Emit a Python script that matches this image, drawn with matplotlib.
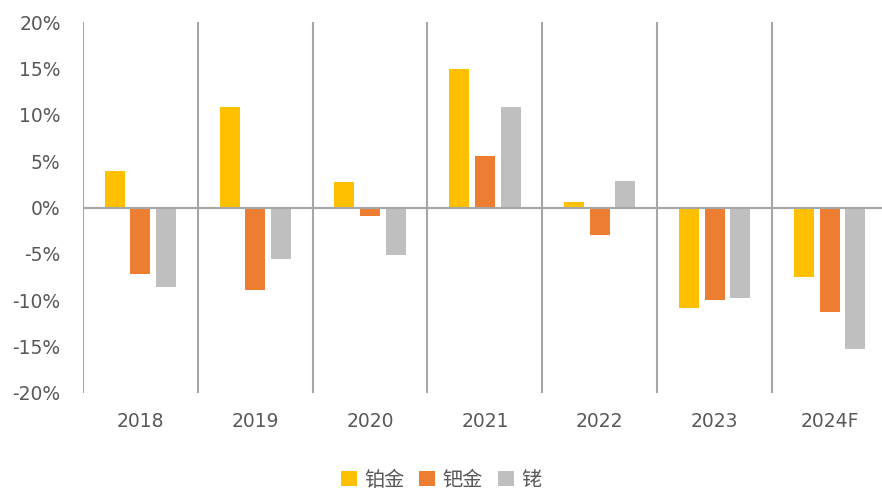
import matplotlib.pyplot as plt
import numpy as np
from matplotlib.ticker import FuncFormatter

plt.rcParams['font.family'] = ['DejaVu Sans', 'Noto Sans CJK SC']

years = ['2018', '2019', '2020', '2021', '2022', '2023', '2024F']
platinum = [3.95, 10.85, 2.7, 14.9, 0.6, -10.8, -7.5]
palladium = [-7.15, -8.9, -0.9, 5.6, -2.95, -9.95, -11.3]
rhodium = [-8.6, -5.6, -5.1, 10.8, 2.9, -9.8, -15.3]

series = [('铂金', platinum, '#FFC000'),
          ('钯金', palladium, '#ED7D31'),
          ('铑', rhodium, '#BFBFBF')]

fig = plt.figure(figsize=(8.82, 4.9), dpi=100)
ax = fig.add_axes([0.094, 0.198, 0.9116, 0.757])

x = np.arange(len(years))
w = 0.174
step = 0.223
for i, (name, vals, col) in enumerate(series):
    ax.bar(x + (i - 1) * step, vals, w, color=col, label=name, zorder=2)

# separators between categories
for b in np.arange(-0.5, len(years), 1):
    ax.axvline(b, color='#A6A6A6', lw=1.5, zorder=1)
ax.axhline(0, color='#A6A6A6', lw=1.5, zorder=3)

ax.set_xlim(-0.5, len(years) - 0.5)
ax.set_ylim(-20, 20)
ax.set_yticks(np.arange(-20, 21, 5))
ax.yaxis.set_major_formatter(FuncFormatter(lambda v, p: f'{v:.0f}%'))
ax.set_xticks(x)
ax.set_xticklabels(years)
ax.tick_params(axis='both', length=0, labelsize=13.5, colors='#595959')
ax.tick_params(axis='x', pad=14)
ax.tick_params(axis='y', pad=16)
for s in ax.spines.values():
    s.set_visible(False)

fig.legend(loc='center', bbox_to_anchor=(0.5, 0.02), ncol=3, frameon=False,
           prop={'family': 'Noto Sans CJK SC', 'size': 14.5},
           handlelength=0.8, handleheight=0.8, handletextpad=0.35,
           columnspacing=0.75, labelcolor='#595959')

fig.savefig('out.png', dpi=100)
